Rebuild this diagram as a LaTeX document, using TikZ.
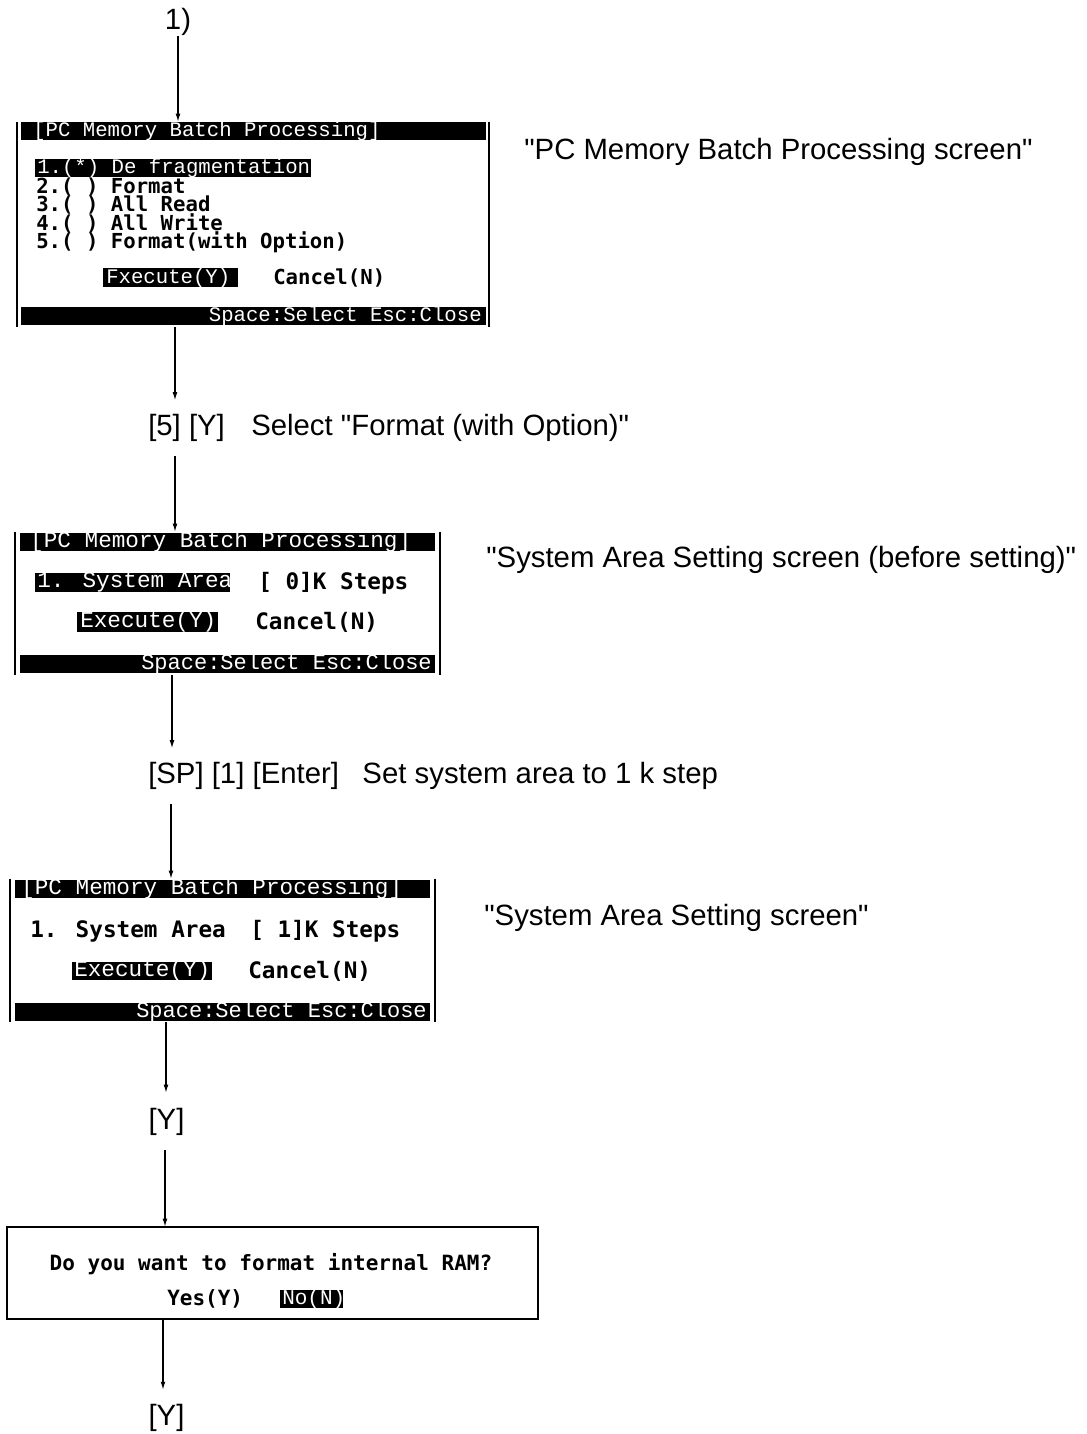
\documentclass[tikz,border=0pt]{standalone}
\usepackage{fontspec}
\setmainfont{Liberation Sans}[Ligatures=TeXOff]
\newfontfamily\scrW{Liberation Mono}[Ligatures=TeXOff]
\newfontfamily\scrB{DejaVu Sans Mono}[Ligatures=TeXOff]
\usetikzlibrary{arrows.meta,fit}
\begin{document}
\begin{tikzpicture}[x=0.75pt,y=-0.75pt,
  arr/.style={-{Latex[length=6pt,width=3.6pt]},line width=0.9pt},
  lab/.style={font=\fontsize{22}{26}\selectfont,inner sep=0pt},
  frm/.style={inner sep=0pt},
  side/.style={line width=1.8pt},
  wA/.style={anchor=west,inner sep=0pt,text=white,font=\scrW\fontsize{15.5}{18}\selectfont},
  bA/.style={anchor=west,inner sep=0pt,font=\scrB\bfseries\fontsize{15.5}{18}\selectfont},
  wB/.style={anchor=west,inner sep=0pt,text=white,font=\scrW\fontsize{17}{20}\selectfont},
  bB/.style={anchor=west,inner sep=0pt,font=\scrB\bfseries\fontsize{17}{20}\selectfont},
  wF/.style={anchor=east,inner sep=0pt,text=white,font=\scrW\fontsize{16.5}{20}\selectfont},
  bD/.style={inner sep=0pt,font=\scrB\bfseries\fontsize{15.75}{18}\selectfont},
  wD/.style={anchor=west,inner sep=0pt,text=white,font=\scrW\fontsize{15.75}{18}\selectfont}
]
\fill[white] (0,0) rectangle (1087,1434);
\useasboundingbox (0,0) rectangle (1087,1434);

% x positions of the connectors
\coordinate (xb) at (175,0);
\coordinate (xd) at (172,0);
\coordinate (xe) at (171,0);
\coordinate (xf) at (166,0);
\coordinate (xg) at (165,0);
\coordinate (xh) at (163,0);

% ---------- labels between screens ----------
\node[lab,minimum height=19.5pt] (l1) at (178,22) {1)};
\node[lab,minimum height=41.25pt,anchor=west] (l5) at (148,428) {[5] [Y]\hspace{0.9em}Select "Format (with Option)"};
\node[lab,minimum height=41.25pt,anchor=west] (lsp) at (148,776) {[SP] [1] [Enter]\hspace{0.8em}Set system area to 1 k step};
\node[lab,minimum height=42.75pt] (ly1) at (166.5,1121.5) {[Y]};
\node[lab,minimum height=42pt] (ly2) at (166.5,1418) {[Y]};

% ---------- captions ----------
\node[lab,anchor=west] (c1) at (524,152) {"PC Memory Batch Processing screen"};
\node[lab,anchor=west] (c2) at (486,560) {"System Area Setting screen (before setting)"};
\node[lab,anchor=west] (c3) at (484,918) {"System Area Setting screen"};

% ---------- screen 1 ----------
\node[frm,fit={(17,122) (489,327)}] (s1) {};
\draw[side] (s1.north west) -- (s1.south west);
\draw[side] (s1.north east) -- (s1.south east);
\fill (21,122) rectangle (486,140);
\fill (21,307) rectangle (486,325);
\node[wA] (s1t) at (33,131) {[PC Memory Batch Processing]};
\fill (35,159) rectangle (311,177);
\node[wA] (s1a) at (37,168) {1.(*) De fragmentation};
\node[bA] (s1b) at (36,187) {2.( ) Format};
\node[bA] (s1c) at (36,205) {3.( ) All Read};
\node[bA] (s1d) at (36,223) {4.( ) All Write};
\node[bA] (s1e) at (36,242) {5.( ) Format(with Option)};
\fill (103,268) rectangle (238,287);
\node[wA] (s1x) at (106,278) {Fxecute(Y)};
\node[bA] (s1n) at (273,278) {Cancel(N)};
\node[wA,anchor=east] (s1f) at (482,316) {Space:Select Esc:Close};

% ---------- screen 2 ----------
\node[frm,fit={(15,532) (440,675)}] (s2) {};
\draw[side] (s2.north west) -- (s2.south west);
\draw[side] (s2.north east) -- (s2.south east);
\fill (20,533) rectangle (435,551);
\fill (20,655) rectangle (435,673);
\node[wB] (s2t) at (30,542) {[PC Memory Batch Processing]};
\fill (35,573) rectangle (230,592);
\node[wB] (s2a) at (37,582.5) {1. System Area};
\node[bB] (s2k) at (258,583) {[ 0]K Steps};
\fill (77,612) rectangle (218,632);
\node[wB] (s2x) at (80,622) {Execute(Y)};
\node[bB] (s2n) at (255,622) {Cancel(N)};
\node[wF] (s2f) at (432,664) {Space:Select Esc:Close};

% ---------- screen 3 ----------
\node[frm,fit={(10,879) (435,1022)}] (s3) {};
\draw[side] (s3.north west) -- (s3.south west);
\draw[side] (s3.north east) -- (s3.south east);
\fill (15,880) rectangle (430,898);
\fill (15,1003) rectangle (430,1021);
\node[wB] (s3t) at (21,889) {[PC Memory Batch Processing]};
\node[bB] (s3a) at (30,931) {1. System Area};
\node[bB] (s3k) at (250,931) {[ 1]K Steps};
\fill (72,962) rectangle (212,980);
\node[wB] (s3x) at (74,971) {Execute(Y)};
\node[bB] (s3n) at (248,971) {Cancel(N)};
\node[wF] (s3f) at (427,1012) {Space:Select Esc:Close};

% ---------- dialog ----------
\node[frm,fit={(7,1227) (538,1319)}] (dlg) {};
\draw[line width=1.3pt] (dlg.north west) rectangle (dlg.south east);
\node[bD] (dq) at (271,1264) {Do you want to format internal RAM?};
\node[bD,anchor=west] (dy) at (167,1299) {Yes(Y)};
\fill (280,1290) rectangle (343,1308);
\node[wD] (dn) at (282,1299) {No(N)};

% ---------- connectors ----------
\draw[arr] (l1.south) -- (l1.south |- s1.north);
\draw[arr] (s1.south -| xb) -- (l5.north -| xb);
\draw[arr] (l5.south -| xb) -- (s2.north -| xb);
\draw[arr] (s2.south -| xd) -- (lsp.north -| xd);
\draw[arr] (lsp.south -| xe) -- (s3.north -| xe);
\draw[arr] (s3.south -| xf) -- (ly1.north -| xf);
\draw[arr] (ly1.south -| xg) -- (dlg.north -| xg);
\draw[arr] (dlg.south -| xh) -- (ly2.north -| xh);
\end{tikzpicture}
\end{document}
